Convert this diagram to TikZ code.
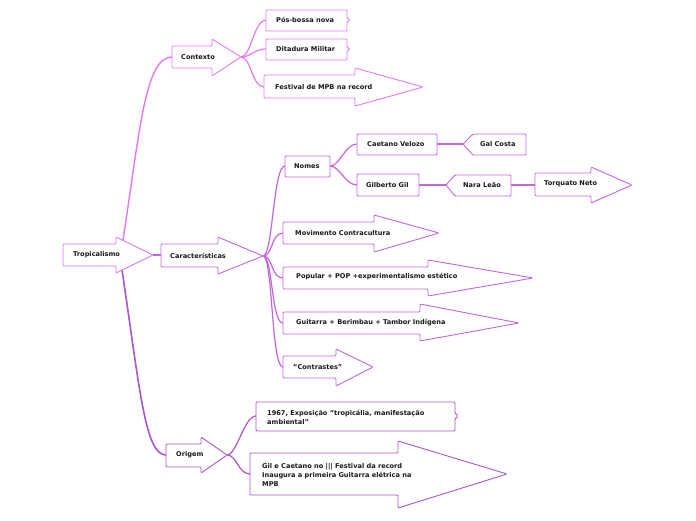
\documentclass[tikz,border=0pt]{standalone}
\usepackage{fontspec}
\setmainfont{DejaVu Sans}
\usepackage{tikz}

\definecolor{tropc}{HTML}{D77BEE}
\definecolor{ctxc}{HTML}{E07AF4}
\definecolor{carc}{HTML}{C465DE}
\definecolor{orgc}{HTML}{AA55CA}

\tikzset{
  lbl/.style={anchor=west, inner sep=0pt, font=\fontsize{6.6}{9}\selectfont\bfseries, text=black!90},
  shp/.style={fill=white, line width=0.9pt, rounded corners=1pt},
  link/.style={line width=1.2pt},
}

\begin{document}
\begin{tikzpicture}[x=1pt, y=-1pt]
\useasboundingbox (0,0) rectangle (696,520);

% anchor points
\coordinate (tropUp) at (123,240);
\coordinate (tropDn) at (122,270);
\coordinate (tropT) at (153,255);
\coordinate (ctxL) at (172,57);
\coordinate (ctxT) at (241,57);
\coordinate (carL) at (161,255);
\coordinate (carT) at (263,256);
\coordinate (orgL) at (166,455);
\coordinate (orgT) at (227,455);
\coordinate (posL) at (266,20);
\coordinate (ditL) at (266,49);
\coordinate (fesL) at (264,87);
\coordinate (nomL) at (285,166);
\coordinate (nomR) at (330,166);
\coordinate (movL) at (283,233);
\coordinate (popL) at (283,278);
\coordinate (guiL) at (283,323);
\coordinate (conL) at (283,367);
\coordinate (caeL) at (357,144);
\coordinate (caeR) at (437,144);
\coordinate (galL) at (463,144);
\coordinate (gilL) at (357,185);
\coordinate (gilR) at (419,185);
\coordinate (narL) at (446,185);
\coordinate (narR) at (511,185);
\coordinate (torL) at (535,185);
\coordinate (expL) at (256,416);
\coordinate (insL) at (250,474);

% connectors
\draw[link, ctxc, line width=1.4pt] (tropUp) .. controls (140,130) and (145,57) .. (ctxL);
\draw[link, orgc, line width=1.6pt] (tropDn) .. controls (140,390) and (145,455) .. (orgL);
\draw[link, carc] (tropT) -- (carL);
\foreach \c in {posL, ditL, fesL}
  \draw[link, ctxc] (ctxT) .. controls +(10,0) and +(-12,0) .. (\c);
\foreach \c in {nomL, movL, popL, guiL, conL}
  \draw[link, carc] (carT) .. controls +(10,0) and +(-12,0) .. (\c);
\foreach \c in {caeL, gilL}
  \draw[link, carc] (nomR) .. controls +(10,0) and +(-12,0) .. (\c);
\draw[link, carc] (caeR) -- (galL);
\draw[link, carc] (gilR) -- (narL);
\draw[link, carc] (narR) -- (torL);
\foreach \c in {expL, insL}
  \draw[link, orgc] (orgT) .. controls +(10,0) and +(-12,0) .. (\c);

% arrow shapes
\draw[shp, draw=tropc] (63,244) -- (116,244) -- (116,237) -- (153,255) -- (116,273) -- (116,266) -- (63,266) -- cycle;
\draw[shp, draw=carc] (161,244) -- (218,244) -- (218,237) -- (263,256) -- (218,274) -- (218,267) -- (161,267) -- cycle;
\draw[shp, draw=ctxc] (172,46) -- (212,46) -- (212,39) -- (241,57) -- (212,76) -- (212,68) -- (172,68) -- cycle;
\draw[shp, draw=ctxc] (264,75) -- (355,75) -- (355,68) -- (423,87) -- (355,106) -- (355,98) -- (264,98) -- cycle;
\draw[shp, draw=carc] (535,173) -- (591,173) -- (591,167) -- (632,185) -- (591,203) -- (591,196) -- (535,196) -- cycle;
\draw[shp, draw=carc] (283,222) -- (374,222) -- (374,215) -- (439,233) -- (374,252) -- (374,244) -- (283,244) -- cycle;
\draw[shp, draw=carc] (283,267) -- (428,267) -- (428,260) -- (533,278) -- (428,296) -- (428,289) -- (283,289) -- cycle;
\draw[shp, draw=carc] (283,312) -- (420,312) -- (420,304) -- (519,323) -- (420,341) -- (420,334) -- (283,334) -- cycle;
\draw[shp, draw=carc] (283,356) -- (336,356) -- (336,349) -- (373,367) -- (336,386) -- (336,378) -- (283,378) -- cycle;
\draw[shp, draw=orgc] (166,444) -- (201,444) -- (201,437) -- (227,455) -- (201,473) -- (201,467) -- (166,467) -- cycle;
\draw[shp, draw=orgc] (250,453) -- (398,453) -- (398,441) -- (507,474) -- (398,508) -- (398,495) -- (250,495) -- cycle;

% plain boxes
\draw[shp, draw=ctxc] (266,10) -- (347,10) -- (347,18) -- (350,20) -- (347,22) -- (347,31) -- (266,31) -- cycle;
\draw[shp, draw=ctxc] (266,39) -- (347,39) -- (347,47) -- (350,49) -- (347,51) -- (347,60) -- (266,60) -- cycle;
\draw[shp, draw=carc] (285,156) rectangle (330,177);
\draw[shp, draw=carc] (357,134) rectangle (437,155);
\draw[shp, draw=carc] (473,134) -- (526,134) -- (526,155) -- (473,155) -- (463,144) -- cycle;
\draw[shp, draw=carc] (357,174) rectangle (419,196);
\draw[shp, draw=carc] (455,175) -- (511,175) -- (511,196) -- (455,196) -- (446,185) -- cycle;
\draw[shp, draw=orgc] (256,402) -- (455,402) -- (455,413) -- (458,416) -- (455,419) -- (455,431) -- (256,431) -- cycle;

% labels
\node[lbl] (trop) at (73,255) {Tropicalismo};
\node[lbl] (car) at (170,256) {Características};
\node[lbl] (ctx) at (181,57) {Contexto};
\node[lbl] (pos) at (276,20) {Pós-bossa nova};
\node[lbl] (dit) at (276,49) {Ditadura Militar};
\node[lbl] (fes) at (275,87) {Festival de MPB na record};
\node[lbl] (nom) at (294,166) {Nomes};
\node[lbl] (cae) at (367,144) {Caetano Velozo};
\node[lbl] (gal) at (480,144) {Gal Costa};
\node[lbl] (gil) at (366,185) {Gilberto Gil};
\node[lbl] (nar) at (463,185) {Nara Leão};
\node[lbl] (tor) at (544,184) {Torquato Neto};
\node[lbl] (mov) at (295,233) {Movimento Contracultura};
\node[lbl] (pop) at (296,277) {Popular + POP +experimentalismo estético};
\node[lbl] (gui) at (296,323) {Guitarra + Berimbau + Tambor Indígena};
\node[lbl] (con) at (293,367) {\symbol{34}Contrastes\symbol{34}};
\node[lbl] (org) at (176,455) {Origem};
\node[lbl, align=left] (exp) at (267,417) {1967, Exposição \symbol{34}tropicália, manifestação\\ambiental\symbol{34}};
\node[lbl, align=left] (ins) at (262,475) {Gil e Caetano no ||| Festival da record\\Inaugura a primeira Guitarra elétrica na\\MPB};
\end{tikzpicture}
\end{document}
